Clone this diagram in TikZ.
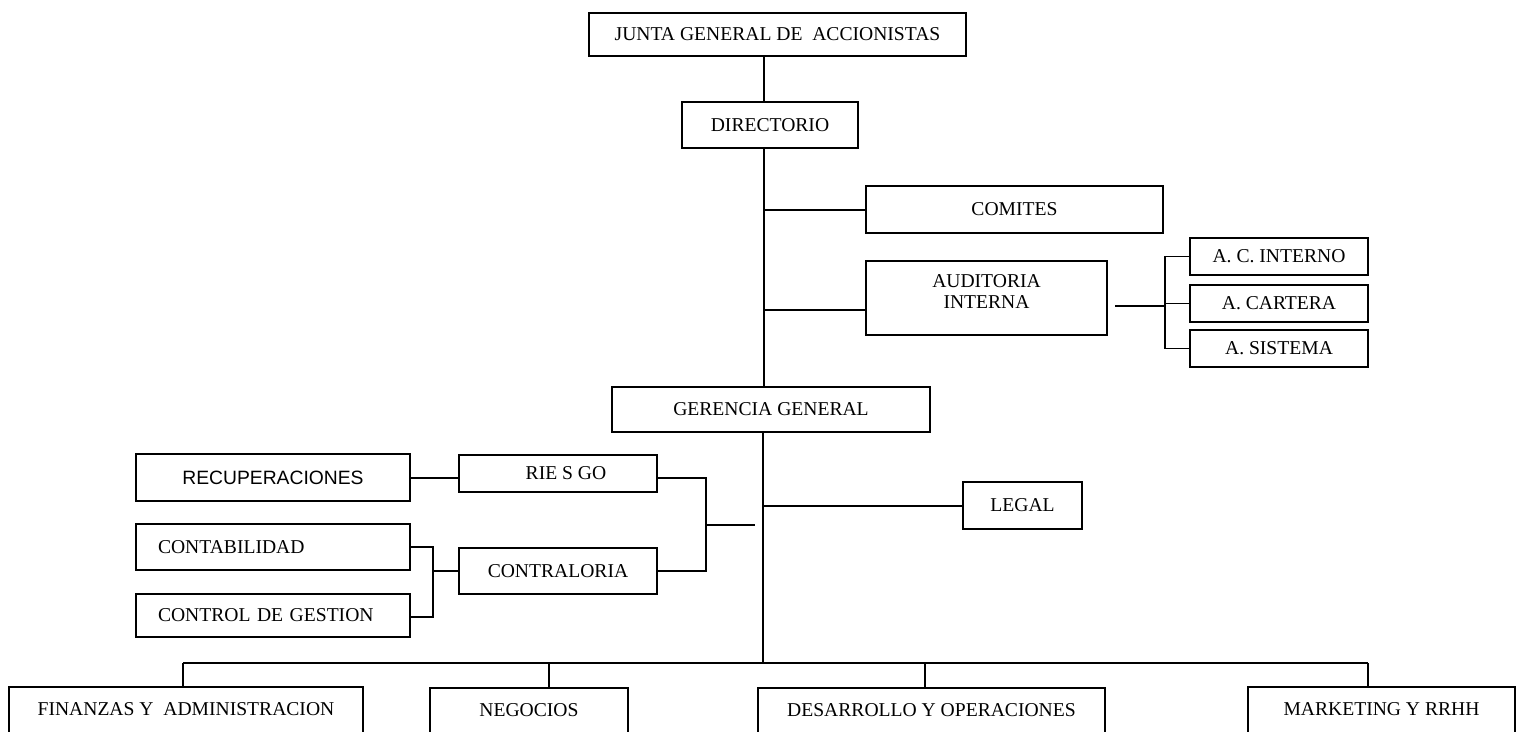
\documentclass[tikz,border=0pt]{standalone}
\usepackage{fontspec}
\setmainfont{Liberation Serif}
\newfontfamily\arialfont{Liberation Sans}
\begin{document}
\begin{tikzpicture}[x=1pt,y=-1pt,
  bx/.style={draw, line width=1.6pt, inner sep=0pt, align=center,
    font=\fontsize{19.6}{21}\selectfont},
  ln/.style={line width=1.6pt},
  bottombox/.style={bx, anchor=north, text height=13pt, text depth=30pt, inner ysep=15.5pt}]
\useasboundingbox (0,0) rectangle (1518,731);
\fill[white] (0,0) rectangle (1518,731);
\clip (0,0) rectangle (1518,731);

% top
\node[bx, minimum width=377, minimum height=43] (junta) at (777.5,34.5) {JUNTA GENERAL DE\ \ ACCIONISTAS};
\node[bx, minimum width=176, minimum height=46] (dir) at (770,125) {DIRECTORIO};
\node[bx, minimum width=297, minimum height=47] (comites) at (1014.5,209.5) {COMITES};
\node[bx, minimum width=241, minimum height=74] (aud) at (986.5,298) {\raisebox{4pt}[\height][\depth]{\begin{tabular}{@{}c@{}}AUDITORIA\\INTERNA\end{tabular}}};
\node[bx, minimum width=178, minimum height=37] (acint) at (1279,256.5) {A. C. INTERNO};
\node[bx, minimum width=178, minimum height=37] (acart) at (1279,303.5) {A. CARTERA};
\node[bx, minimum width=178, minimum height=37] (asis) at (1279,348.5) {A. SISTEMA};
\node[bx, minimum width=318, minimum height=45] (ger) at (771,409.5) {GERENCIA GENERAL};
\node[bx, minimum width=119, minimum height=47] (legal) at (1022.5,505.5) {LEGAL};

% left cluster
\node[bx, minimum width=274, minimum height=47, font=\arialfont\fontsize{19.3}{21}\selectfont] (recup) at (273,477.5) {RECUPERACIONES};
\node[bx, minimum width=198, minimum height=37] (riesgo) at (558,473.5) {\hspace*{16pt}RIE S GO};
\node[bx, minimum width=274, minimum height=46, text width=230, align=left, inner xsep=22] (contab) at (273,547) {CONTABILIDAD};
\node[bx, minimum width=274, minimum height=43, text width=230, align=left, inner xsep=22] (control) at (273,615.5) {CONTROL DE GESTION};
\node[bx, minimum width=198, minimum height=46] (contral) at (558,571) {CONTRALORIA};

% bottom row
\node[bottombox, minimum width=354] (fin) at (186,686) {FINANZAS Y\ \ ADMINISTRACION};
\node[bottombox, minimum width=198] (neg) at (529,687) {NEGOCIOS};
\node[bottombox, minimum width=347] (des) at (931.5,687) {DESARROLLO Y OPERACIONES};
\node[bottombox, minimum width=267] (mkt) at (1381.5,686) {MARKETING Y RRHH};

% coordinates
\coordinate (t0) at (764,56);
\coordinate (tc) at (764,210);
\coordinate (ta) at (764,310);
\coordinate (tl) at (763,506);
\coordinate (tbar) at (763,663);
\coordinate (audout) at (1115,306);
\coordinate (audbr) at (1165,306);
\coordinate (lbr) at (433,571);
\coordinate (rbr) at (706,525);
\coordinate (rbrend) at (755,525);
\coordinate (b1) at (183,663);
\coordinate (b2) at (549,663);
\coordinate (b3) at (925,663);
\coordinate (b4) at (1368,663);

% trunk
\draw[ln] (t0) -- (t0 |- dir.north);
\draw[ln] (t0 |- dir.south) -- (t0 |- ger.north);
\draw[ln] (tc) -- (comites.west |- tc);
\draw[ln] (ta) -- (aud.west |- ta);
\draw[ln] (tbar |- ger.south) -- (tbar);
\draw[ln] (tl) -- (legal.west |- tl);

% auditoria bracket
\draw[ln] (audout) -- (audbr);
\draw[ln] (acint.west) -- (audbr |- acint.west) -- (audbr |- asis.west) -- (asis.west);
\draw[ln] (audbr |- acart.west) -- (acart.west);

% left cluster connectors
\draw[ln] (recup.east |- 0,478) -- (riesgo.west |- 0,478);
\draw[ln] (contab.east) -- (lbr |- contab.east) -- (lbr |- 0,617) -- (control.east |- 0,617);
\draw[ln] (lbr) -- (contral.west);
\draw[ln] (riesgo.east |- 0,478) -- (rbr |- 0,478) -- (rbr |- contral.east) -- (contral.east);
\draw[ln] (rbr) -- (rbrend);

% bottom bar
\draw[ln] (b1) -- (b4);
\draw[ln] (b1) -- (b1 |- fin.north);
\draw[ln] (b2) -- (b2 |- neg.north);
\draw[ln] (b3) -- (b3 |- des.north);
\draw[ln] (b4) -- (b4 |- mkt.north);
\end{tikzpicture}
\end{document}
